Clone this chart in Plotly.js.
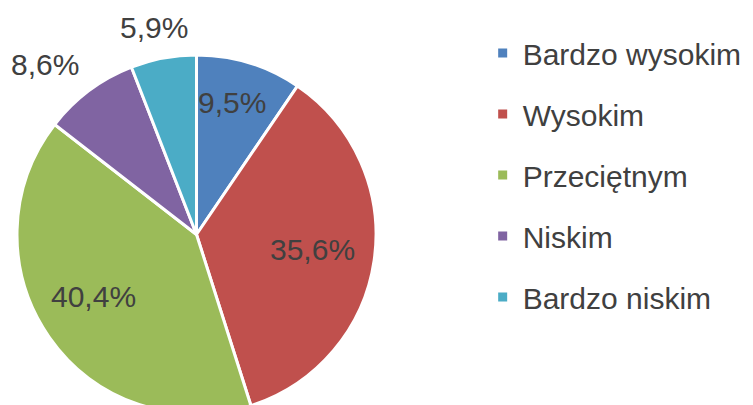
<!DOCTYPE html>
<html>
<head>
<meta charset="utf-8">
<script src="https://cdn.plot.ly/plotly-3.0.1.min.js"></script>
<style>
  html, body { margin: 0; padding: 0; overflow: hidden; background: #fff; }
  #chart { width: 753px; height: 420px; }
</style>
</head>
<body>
<div id="chart"></div>
<script>
// Data
var categories = ["Bardzo wysokim", "Wysokim", "Przeciętnym", "Niskim", "Bardzo niskim"];
var values = [9.5, 35.6, 40.4, 8.6, 5.9];
var valueLabels = ["9,5%", "35,6%", "40,4%", "8,6%", "5,9%"];

// Styles
var colors = ["#4F81BD", "#C0504D", "#9BBB59", "#8064A2", "#4BACC6"];
var labelRadius = [0.76, 0.65, 0.67, 1.27, 1.18];
var labelAngleShift = [-2, -1, 4, -5, -1];
var textColor = "#404040";
var fontFamily = "Liberation Sans, Arial, sans-serif";

var W = 753, H = 420;
var cx = 196.5, cy = 234.5, R = 179.5;

var traces = [{
  type: "pie",
  labels: categories,
  values: values,
  sort: false,
  direction: "clockwise",
  rotation: 0,
  textinfo: "none",
  hoverinfo: "label+percent",
  showlegend: false,
  marker: { colors: colors, line: { color: "#ffffff", width: 3 } },
  domain: { x: [(cx - R) / W, (cx + R) / W], y: [1 - (cy + R) / H, 1 - (cy - R) / H] }
}];

categories.forEach(function (c, i) {
  traces.push({
    type: "scatter", mode: "markers", x: [null], y: [null],
    name: c, legendgroup: "g" + i, showlegend: true,
    marker: { symbol: "square", size: 9, color: colors[i] },
    hoverinfo: "skip"
  });
});

// Annotations for percentages, positioned from the data angles
var total = values.reduce(function (a, b) { return a + b; }, 0);
var annotations = [];
var cum = 0;
values.forEach(function (v, i) {
  var mid = (cum + v / 2) / total * 360 + labelAngleShift[i];
  cum += v;
  var a = mid * Math.PI / 180;
  var px = cx + Math.sin(a) * R * labelRadius[i];
  var py = cy - Math.cos(a) * R * labelRadius[i];
  annotations.push({
    xref: "paper", yref: "paper", x: px / W, y: 1 - py / H,
    xanchor: "center", yanchor: "middle", showarrow: false,
    text: valueLabels[i],
    font: { family: fontFamily, size: 30, color: textColor }
  });
});

var layout = {
  width: W, height: H,
  margin: { l: 0, r: 0, t: 0, b: 0 },
  paper_bgcolor: "#ffffff", plot_bgcolor: "#ffffff",
  xaxis: { visible: false, domain: [0.9, 1] },
  yaxis: { visible: false, domain: [0.9, 1] },
  showlegend: true,
  legend: {
    x: 0.641, y: 1 - 27 / H, xanchor: "left", yanchor: "top",
    traceorder: "grouped", tracegroupgap: 19,
    font: { family: fontFamily, size: 30, color: textColor },
    bgcolor: "rgba(0,0,0,0)", itemwidth: 30
  },
  annotations: annotations
};

Plotly.newPlot("chart", traces, layout, { displayModeBar: false, staticPlot: true });
</script>
</body>
</html>
